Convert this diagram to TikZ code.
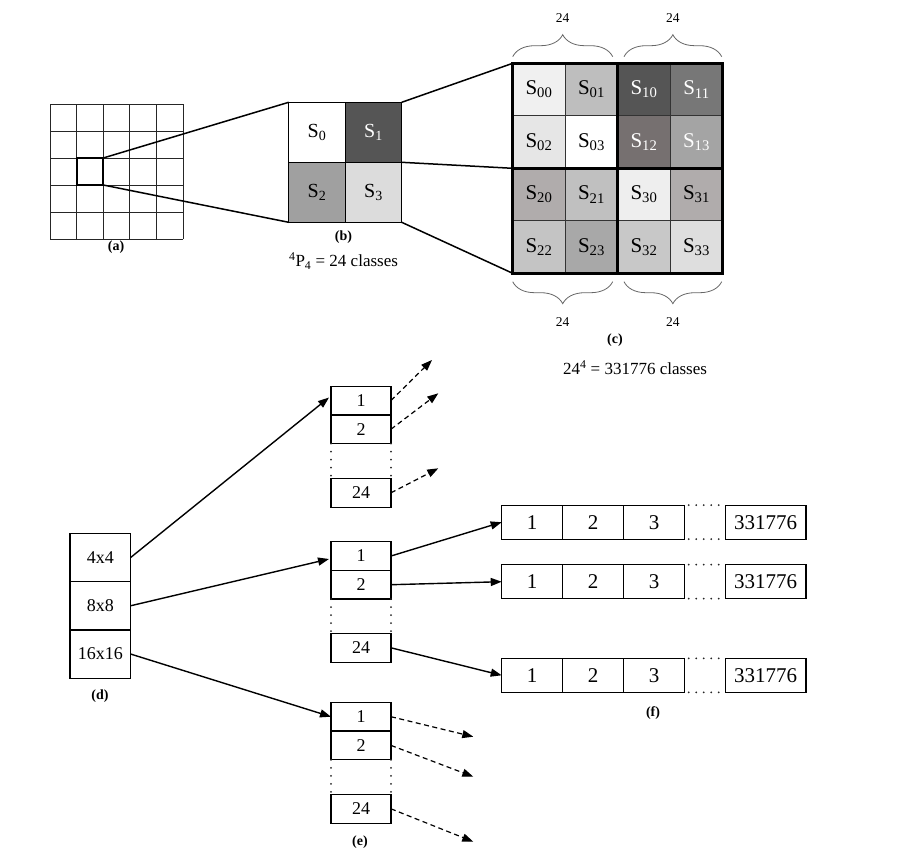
\documentclass[tikz,border=0pt]{standalone}
\usepackage{fontspec}
\setmainfont{Liberation Serif}
\usetikzlibrary{arrows.meta,decorations.pathreplacing}
\definecolor{bone}{HTML}{555555}
\definecolor{btwo}{HTML}{A0A0A0}
\definecolor{bthree}{HTML}{DCDCDC}
\definecolor{czz}{HTML}{F0F0F0}
\definecolor{czo}{HTML}{BEBEBE}
\definecolor{czt}{HTML}{E6E6E6}
\definecolor{coz}{HTML}{555555}
\definecolor{coo}{HTML}{777777}
\definecolor{cot}{HTML}{767070}
\definecolor{coh}{HTML}{A4A4A4}
\definecolor{ctz}{HTML}{B0ACAC}
\definecolor{cto}{HTML}{C0C0C0}
\definecolor{ctt}{HTML}{C4C4C4}
\definecolor{cth}{HTML}{A8A8A8}
\definecolor{chz}{HTML}{EEEEEE}
\definecolor{cho}{HTML}{B0ACAC}
\definecolor{cht}{HTML}{C8C8C8}
\definecolor{chh}{HTML}{DEDEDE}
\begin{document}
\begin{tikzpicture}[x=1pt,y=-1pt,
  gridline/.style={line width=0.9pt,black!85},
  conn/.style={line width=1.5pt},
  bcell/.style={draw,line width=1.2pt,inner sep=0pt,outer sep=0pt,minimum width=56.5pt,minimum height=60pt,font=\fontsize{20}{20}\selectfont},
  ccell/.style={draw=black!80,line width=1.2pt,inner sep=0pt,outer sep=0pt,minimum width=52.5pt,minimum height=52.5pt,font=\fontsize{21}{21}\selectfont},
  wtext/.style={text=white},
  brc/.style={decorate,decoration={brace,amplitude=22pt},draw=black!60,line width=0.8pt},
  brlab/.style={font=\fontsize{13.5}{14}\selectfont,inner sep=1pt},
  lab/.style={font=\fontsize{14}{14}\selectfont\bfseries,inner sep=1pt},
  txt/.style={font=\fontsize{17}{17}\selectfont,inner sep=1pt},
  ebox/.style={draw,line width=1.3pt,inner sep=0pt,outer sep=0pt,minimum width=60pt,minimum height=28.7pt,font=\fontsize{18}{18}\selectfont},
  dbox/.style={draw,line width=1.3pt,inner sep=0pt,outer sep=0pt,minimum width=60.7pt,minimum height=48.3pt,font=\fontsize{18}{18}\selectfont},
  fbox/.style={draw,line width=1.3pt,inner sep=0pt,outer sep=0pt,minimum width=61pt,minimum height=34pt,font=\fontsize{21}{21}\selectfont},
  fbig/.style={fbox,minimum width=80.7pt},
  arr/.style={line width=1.4pt,-{Triangle[length=11pt,width=8pt]}},
  darr/.style={line width=1.2pt,dash pattern=on 5pt off 3.5pt,-{Triangle[length=11pt,width=8pt]}},
  dotline/.style={line width=2pt,line cap=round,dash pattern=on 0pt off 8pt,black!85},
]
\useasboundingbox (0,0) rectangle (901,862);
% (a) grid
\foreach \i in {0,...,5} {
  \draw[gridline] (50+\i*26.6,104) -- (50+\i*26.6,239);
  \draw[gridline] (50,104+\i*27) -- (183,104+\i*27);
}
\node[draw,line width=2.2pt,inner sep=0pt,outer sep=0pt,minimum width=26.6pt,minimum height=27pt] (hc) at (89.9,171.5) {};
\node[lab] (la) at (116,247) {(a)};
% (b)
\node[bcell,fill=white] (b0) at (316.95,132.3) {S\textsubscript{0}};
\node[bcell,fill=bone,wtext] (b1) at (373.45,132.3) {S\textsubscript{1}};
\node[bcell,fill=btwo] (b2) at (316.95,192.3) {S\textsubscript{2}};
\node[bcell,fill=bthree] (b3) at (373.45,192.3) {S\textsubscript{3}};
\draw[line width=1.5pt] (b0.north west) rectangle (b3.south east);
\node[lab] (lb) at (343.5,237) {(b)};
\node[txt] (pb) at (343.5,261) {\textsuperscript{4}P\textsubscript{4} = 24 classes};
\draw[conn] (hc.north east) -- (b0.north west);
\draw[conn] (hc.south east) -- (b2.south west);
% (c)
\node[ccell,fill=czz] (c00) at (538.95,89.55) {S\textsubscript{00}};
\node[ccell,fill=czo] (c01) at (591.45,89.55) {S\textsubscript{01}};
\node[ccell,fill=czt] (c02) at (538.95,142.05) {S\textsubscript{02}};
\node[ccell,fill=white] (c03) at (591.45,142.05) {S\textsubscript{03}};
\node[ccell,fill=coz,wtext] (c10) at (643.95,89.55) {S\textsubscript{10}};
\node[ccell,fill=coo,wtext] (c11) at (696.45,89.55) {S\textsubscript{11}};
\node[ccell,fill=cot,wtext] (c12) at (643.95,142.05) {S\textsubscript{12}};
\node[ccell,fill=coh,wtext] (c13) at (696.45,142.05) {S\textsubscript{13}};
\node[ccell,fill=ctz] (c20) at (538.95,194.55) {S\textsubscript{20}};
\node[ccell,fill=cto] (c21) at (591.45,194.55) {S\textsubscript{21}};
\node[ccell,fill=ctt] (c22) at (538.95,247.05) {S\textsubscript{22}};
\node[ccell,fill=cth] (c23) at (591.45,247.05) {S\textsubscript{23}};
\node[ccell,fill=chz] (c30) at (643.95,194.55) {S\textsubscript{30}};
\node[ccell,fill=cho] (c31) at (696.45,194.55) {S\textsubscript{31}};
\node[ccell,fill=cht] (c32) at (643.95,247.05) {S\textsubscript{32}};
\node[ccell,fill=chh] (c33) at (696.45,247.05) {S\textsubscript{33}};
\draw[line width=3.5pt] (c00.north west) rectangle (c33.south east);
\draw[line width=3.5pt] (c01.north east) -- (c23.south east);
\draw[line width=3.5pt] (c02.south west) -- (c13.south east);
\draw[conn] (b1.north east) -- (c00.north west);
\draw[conn] (b1.south east) -- (c20.north west);
\draw[conn] (b3.south east) -- (c22.south west);
% braces
\draw[brc] (512.7,56.7) -- (612.7,56.7);
\draw[brc] (624,56.7) -- (721.7,56.7);
\draw[brc] (612.7,281.7) -- (512.7,281.7);
\draw[brc] (721.7,281.7) -- (624,281.7);
\node[brlab] (t1) at (562.7,18.3) {24};
\node[brlab] (t2) at (672.8,18.3) {24};
\node[brlab] (t3) at (562.7,321.7) {24};
\node[brlab] (t4) at (672.8,321.7) {24};
\node[lab] (lc) at (615,340) {(c)};
\node[txt] (pc) at (635,368) {24\textsuperscript{4} = 331776 classes};
% (d)
\node[dbox] (d4) at (100.35,557.45) {4x4};
\node[dbox] (d8) at (100.35,605.75) {8x8};
\node[dbox] (d16) at (100.35,654.05) {16x16};
\node[lab] (ld) at (100,696) {(d)};
% (e) upper
\node[ebox] (u1) at (361,400.5) {1};
\node[ebox] (u2) at (361,429.2) {2};
\node[ebox] (u24) at (361,492.8) {24};
\draw[dotline] (u2.south west) -- (u24.north west);
\draw[dotline] (u2.south east) -- (u24.north east);
% (e) middle
\node[ebox] (m1) at (361,556) {1};
\node[ebox] (m2) at (361,584.7) {2};
\node[ebox] (m24) at (361,647.8) {24};
\draw[dotline] (m2.south west) -- (m24.north west);
\draw[dotline] (m2.south east) -- (m24.north east);
% (e) lower
\node[ebox] (l1) at (361,716.7) {1};
\node[ebox] (l2) at (361,745.4) {2};
\node[ebox] (l24) at (361,808.8) {24};
\draw[dotline] (l2.south west) -- (l24.north west);
\draw[dotline] (l2.south east) -- (l24.north east);
\node[lab] (le) at (360,842) {(e)};
% (f)
\foreach \r/\y in {1/522.2,2/581.7,3/675.3} {
  \node[fbox] (f\r a) at (532.2,\y) {1};
  \node[fbox] (f\r b) at (593.2,\y) {2};
  \node[fbox] (f\r c) at (654.2,\y) {3};
  \node[fbig] (f\r z) at (765.65,\y) {331776};
  \draw[dotline,dash pattern=on 0pt off 7.5pt] ([xshift=4pt]f\r c.north east) -- (f\r z.north west);
  \draw[dotline,dash pattern=on 0pt off 7.5pt] ([xshift=4pt]f\r c.south east) -- (f\r z.south west);
}
\node[lab] (lf) at (653,713) {(f)};
% arrows d -> e
\draw[arr] (d4.east) -- ([xshift=-2pt,yshift=3pt]u1.west);
\draw[arr] (d8.east) -- ([xshift=-2pt,yshift=-3pt]m1.west);
\draw[arr] (d16.east) -- (l1.west);
% dashed arrows
\coordinate (ua) at (432,360);
\coordinate (ub) at (438.3,393.3);
\coordinate (uc) at (438.3,468.3);
\draw[darr] (u1.east) -- (ua);
\draw[darr] (u2.east) -- (ub);
\draw[darr] (u24.east) -- (uc);
\coordinate (la1) at (473.3,736.7);
\coordinate (lb1) at (473.3,776.7);
\coordinate (lc1) at (473.3,841.7);
\draw[darr] (l1.east) -- (la1);
\draw[darr] (l2.east) -- (lb1);
\draw[darr] (l24.east) -- (lc1);
% middle -> f
\draw[arr] (m1.east) -- (f1a.west);
\draw[arr] (m2.east) -- (f2a.west);
\draw[arr] (m24.east) -- (f3a.west);
\end{tikzpicture}
\end{document}
